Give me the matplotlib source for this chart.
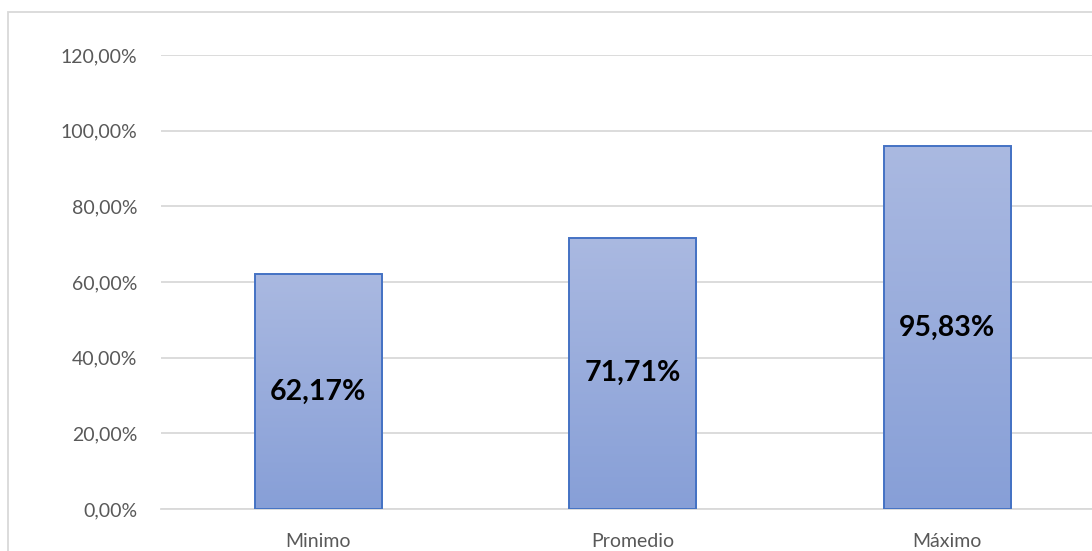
import numpy as np
import matplotlib
matplotlib.use("Agg")
import matplotlib.pyplot as plt
from matplotlib.patches import Rectangle
from matplotlib.ticker import FuncFormatter

categories = ["Minimo", "Promedio", "Máximo"]
values = [62.17, 71.71, 95.83]
y_ticks = [0, 20, 40, 60, 80, 100, 120]

plt.rcParams["font.family"] = ["Lato", "DejaVu Sans"]

W, H = 1092, 551
fig = plt.figure(figsize=(W / 100, H / 100), dpi=100)

# chart frame
fig.patches.append(Rectangle((8 / W, -0.1), 1.2, 1 - 12 / H + 0.1,
                             transform=fig.transFigure, fill=False,
                             edgecolor="#D9D9D9", linewidth=1.3))

left, right = 161 / W, 1104.5 / W
bottom, top = 1 - 509 / H, 1 - 55 / H
ax = fig.add_axes([left, bottom, right - left, top - bottom])

x = np.arange(len(categories))
bars = ax.bar(x, values, width=0.405, color="none",
              edgecolor="#4472C4", linewidth=1.4, zorder=3)

grad = np.linspace(0, 1, 256).reshape(-1, 1)
cmap = matplotlib.colors.LinearSegmentedColormap.from_list(
    "fill", ["#879FD7", "#AAB9E1"])
for b in bars:
    x0, y0 = b.get_x(), b.get_y()
    w, h = b.get_width(), b.get_height()
    im = ax.imshow(grad, extent=[x0, x0 + w, y0, y0 + h], origin="lower",
                   cmap=cmap, aspect="auto", zorder=2)
    im.set_clip_path(b)

for xi, v in zip(x, values):
    ax.text(xi, v / 2, f"{v:.2f}%".replace(".", ","), ha="center",
            va="center", fontsize=20.5, fontweight="bold", color="black",
            zorder=4)

ax.set_xlim(-0.5, len(categories) - 0.5)
ax.set_ylim(0, 120)
ax.set_yticks(y_ticks)
ax.yaxis.set_major_formatter(FuncFormatter(lambda v, p: f"{v:.2f}%".replace(".", ",")))
ax.set_xticks(x)
ax.set_xticklabels(categories)
ax.tick_params(axis="both", length=0, labelsize=14, labelcolor="#595959")
ax.tick_params(axis="y", pad=17)
ax.tick_params(axis="x", pad=17)
ax.grid(axis="y", color="#D9D9D9", linewidth=1.3, zorder=0)
ax.set_axisbelow(True)
for s in ax.spines.values():
    s.set_visible(False)
ax.spines["bottom"].set_visible(True)
ax.spines["bottom"].set_color("#D9D9D9")
ax.spines["bottom"].set_linewidth(1.3)

fig.savefig("out.png", dpi=100)
